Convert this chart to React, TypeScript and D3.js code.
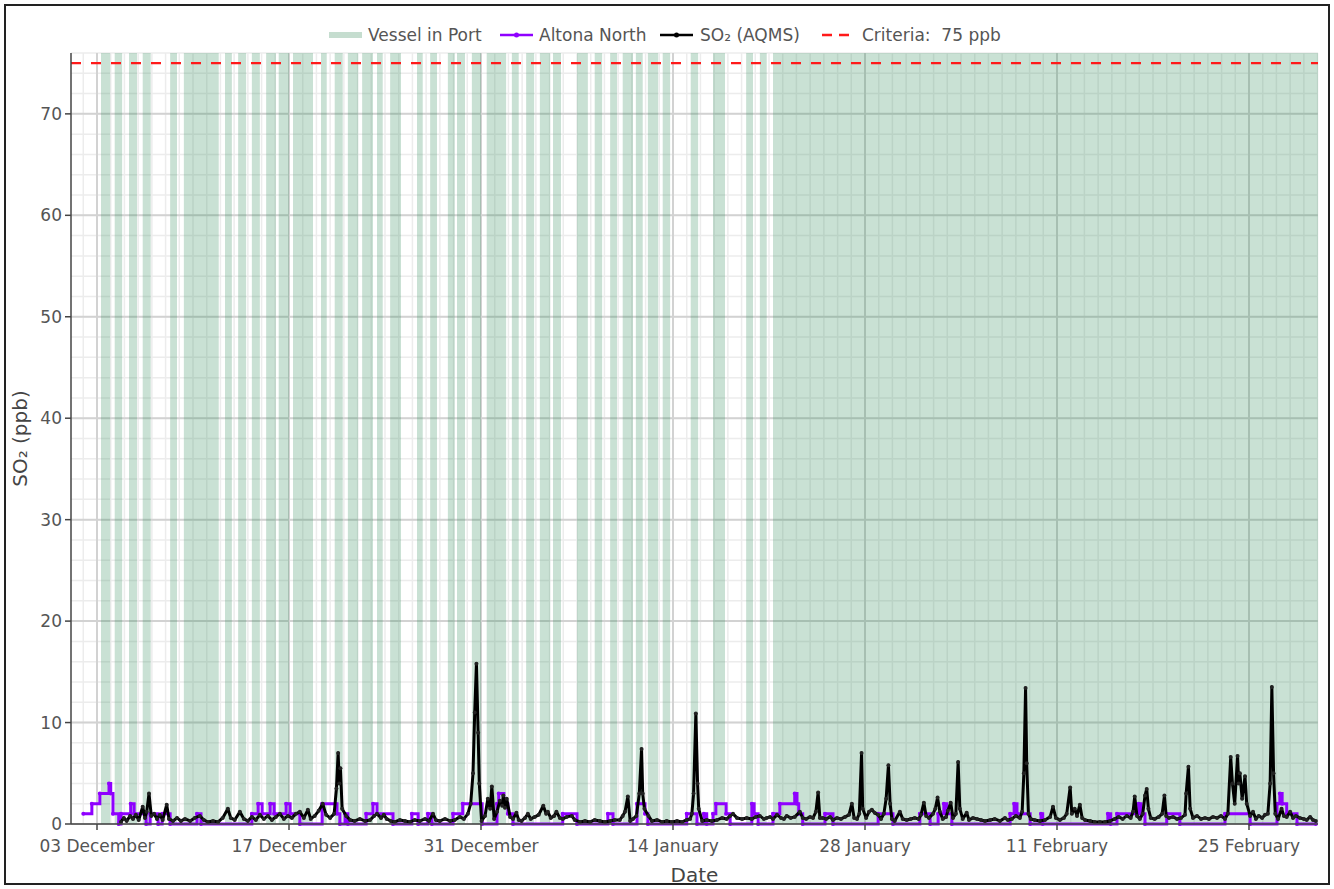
import React from "react";
import * as d3 from "d3";

// Hours since 03 Dec 2022 00:00 (UTC) -> values
const START_DATE = Date.UTC(2022, 11, 3);
const DOMAIN_HOURS: [number, number] = [-45.5, 2136.75];

const X_TICK_DAYS = [0, 14, 28, 42, 56, 70, 84];
const X_TICK_LABELS = ["03 December", "17 December", "31 December", "14 January", "28 January", "11 February", "25 February"];
const Y_TICKS = [0, 10, 20, 30, 40, 50, 60, 70];
const Y_MAX = 76;
const CRITERIA = 75;

// Vessel in Port periods [startHour, endHour]
const VESSEL_IN_PORT: [number, number][] = [
  [7, 23], [31, 44], [56, 70], [80, 94], [128, 140], [152, 213], [224, 236], [247, 261],
  [271, 285], [296, 313], [318, 336], [343, 378], [392, 402], [416, 430], [439, 457],
  [464, 483], [490, 500], [513, 532], [560, 570], [583, 595], [614, 626], [630, 644],
  [656, 672], [682, 716], [726, 738], [751, 765], [775, 793], [798, 812], [840, 859],
  [871, 884], [898, 910], [920, 938], [943, 955], [964, 982], [990, 1003], [1039, 1052],
  [1078, 1099], [1136, 1148], [1160, 1172], [1183, 2137],
];

// Altona North (step changes) [hour, value]
const ALTONA_NORTH: [number, number][] = [
  [-24, 1], [-9, 2], [5, 3], [21, 4], [24, 3], [28, 1], [38, 0], [42, 1], [59, 2], [65, 1],
  [86, 0], [93, 1], [107, 0], [114, 1], [128, 0], [175, 1], [182, 0], [271, 1], [282, 2],
  [289, 1], [303, 2], [310, 1], [331, 2], [338, 1], [355, 0], [394, 2], [420, 1], [425, 0],
  [434, 1], [439, 0], [471, 1], [483, 2], [490, 1], [518, 0], [551, 1], [562, 0], [579, 1],
  [586, 0], [623, 1], [640, 2], [674, 0], [700, 2], [703, 3], [712, 2], [719, 1], [728, 0],
  [815, 1], [840, 0], [894, 1], [903, 0], [945, 2], [959, 1], [964, 0], [1032, 1], [1050, 0],
  [1062, 1], [1067, 0], [1078, 1], [1083, 2], [1101, 1], [1108, 0], [1146, 2], [1150, 1],
  [1157, 0], [1183, 1], [1195, 2], [1221, 3], [1225, 2], [1228, 1], [1235, 0], [1274, 1],
  [1288, 0], [1367, 1], [1393, 0], [1440, 1], [1458, 0], [1472, 1], [1482, 2], [1487, 1],
  [1496, 0], [1598, 1], [1605, 2], [1610, 1], [1633, 0], [1652, 1], [1655, 0], [1769, 1],
  [1774, 0], [1785, 1], [1823, 2], [1827, 1], [1834, 0], [1872, 1], [1895, 0], [1974, 1],
  [2018, 0], [2065, 2], [2070, 3], [2074, 2], [2082, 1], [2100, 0], [2133, 0],
];

// SO2 (AQMS) [hour, value]
const SO2_AQMS: [number, number][] = [
  [42, 0.2], [47, 0.6], [52, 0.3], [58, 0.8], [63, 0.5], [68, 0.9], [73, 0.4], [80, 1.7],
  [84, 0.6], [87, 1.2], [91, 3.0], [95, 0.8], [100, 1.0], [105, 0.5], [110, 0.9], [115, 0.4],
  [122, 1.9], [126, 0.5], [133, 0.3], [140, 0.6], [147, 0.3], [154, 0.5], [163, 0.3], [171, 0.6],
  [180, 0.8], [187, 0.4], [194, 0.2], [203, 0.3], [212, 0.2], [220, 0.6], [229, 1.5], [234, 0.6],
  [241, 0.4], [250, 1.2], [257, 0.5], [264, 0.3], [271, 0.7], [278, 0.4], [285, 0.9], [292, 0.5],
  [299, 0.8], [306, 0.4], [313, 0.7], [320, 1.0], [327, 0.5], [334, 0.8], [341, 0.6], [348, 1.0],
  [355, 1.2], [362, 0.6], [369, 1.4], [374, 0.5], [381, 0.8], [388, 1.3], [395, 2.0], [401, 0.9],
  [408, 0.6], [415, 1.0], [419, 3.5], [422, 7.0], [424, 4.0], [426, 5.5], [429, 1.5], [436, 0.8],
  [443, 0.4], [451, 0.3], [460, 0.5], [469, 0.3], [478, 0.4], [485, 0.8], [490, 1.0], [497, 0.6],
  [502, 0.9], [507, 0.5], [514, 0.3], [521, 0.2], [530, 0.4], [539, 0.3], [548, 0.2], [556, 0.4],
  [565, 0.3], [574, 0.5], [581, 0.3], [588, 1.0], [593, 0.4], [600, 0.3], [609, 0.5], [618, 0.3],
  [626, 0.4], [635, 0.7], [642, 0.5], [649, 1.0], [654, 2.0], [658, 5.0], [661, 11.0], [664, 15.8],
  [667, 9.0], [669, 4.0], [673, 0.3], [679, 0.8], [684, 2.5], [688, 1.5], [691, 3.7], [695, 0.5],
  [700, 1.2], [705, 2.3], [709, 1.8], [711, 2.8], [714, 1.6], [717, 2.5], [723, 0.7], [728, 0.5],
  [734, 1.1], [738, 0.4], [743, 0.3], [749, 0.6], [754, 1.0], [759, 0.5], [766, 0.7], [773, 0.9],
  [781, 1.8], [786, 1.0], [789, 1.2], [794, 0.6], [800, 0.8], [804, 1.2], [810, 0.6], [815, 0.5],
  [822, 0.7], [831, 0.8], [836, 0.4], [845, 0.2], [854, 0.3], [863, 0.2], [871, 0.4], [880, 0.3],
  [889, 0.2], [898, 0.3], [906, 0.4], [915, 0.4], [920, 0.8], [924, 1.2], [929, 2.7], [933, 0.3],
  [938, 0.5], [944, 0.8], [949, 3.0], [953, 7.4], [955, 3.0], [958, 1.5], [965, 0.8], [971, 0.3],
  [980, 0.4], [989, 0.2], [997, 0.3], [1006, 0.2], [1015, 0.3], [1024, 0.2], [1032, 0.4], [1038, 0.5],
  [1041, 1.0], [1044, 3.0], [1048, 10.9], [1051, 4.0], [1053, 1.5], [1059, 0.3], [1067, 0.4], [1076, 0.3],
  [1085, 0.4], [1094, 0.6], [1102, 0.5], [1108, 0.8], [1113, 1.0], [1120, 0.6], [1129, 0.5], [1137, 0.6],
  [1146, 0.5], [1153, 0.7], [1160, 0.8], [1167, 0.5], [1172, 0.6], [1178, 0.7], [1183, 0.5], [1190, 0.9],
  [1197, 0.6], [1202, 0.5], [1207, 0.8], [1214, 0.6], [1221, 0.7], [1230, 1.2], [1235, 0.6], [1241, 0.5],
  [1248, 0.7], [1253, 0.6], [1258, 1.2], [1262, 3.1], [1265, 0.6], [1270, 0.6], [1276, 0.5], [1283, 0.7],
  [1288, 0.4], [1295, 0.6], [1302, 0.5], [1309, 0.7], [1316, 0.9], [1321, 2.0], [1325, 0.6], [1330, 0.5],
  [1334, 1.0], [1338, 7.0], [1340, 1.5], [1346, 0.6], [1351, 1.2], [1356, 1.4], [1361, 1.1], [1367, 0.9],
  [1372, 0.5], [1377, 1.0], [1381, 2.5], [1385, 5.8], [1388, 2.0], [1391, 0.5], [1396, 0.3], [1405, 1.2],
  [1410, 0.5], [1417, 0.4], [1424, 0.5], [1431, 0.6], [1438, 0.5], [1442, 0.9], [1447, 2.1], [1451, 0.8],
  [1456, 0.6], [1463, 1.0], [1467, 1.5], [1471, 2.6], [1475, 1.2], [1480, 0.5], [1486, 0.7], [1489, 1.3],
  [1494, 2.1], [1498, 0.6], [1503, 1.0], [1507, 6.1], [1510, 1.5], [1515, 0.5], [1522, 1.1], [1526, 0.4],
  [1533, 0.6], [1540, 0.5], [1547, 0.4], [1554, 0.3], [1563, 0.4], [1571, 0.5], [1580, 0.3], [1589, 0.6],
  [1594, 0.4], [1601, 0.5], [1608, 0.8], [1615, 0.6], [1619, 1.2], [1622, 5.0], [1625, 13.4], [1627, 6.0],
  [1630, 1.0], [1634, 0.5], [1641, 0.4], [1650, 0.3], [1659, 0.4], [1668, 0.7], [1673, 1.7], [1678, 0.6],
  [1685, 0.4], [1692, 0.6], [1697, 1.0], [1703, 3.6], [1706, 1.0], [1711, 1.5], [1715, 0.8], [1720, 1.9],
  [1724, 0.6], [1729, 0.4], [1738, 0.3], [1746, 0.2], [1755, 0.2], [1764, 0.2], [1773, 0.3], [1781, 0.5],
  [1788, 0.7], [1795, 0.5], [1802, 0.8], [1809, 0.6], [1813, 1.2], [1816, 2.7], [1820, 0.8], [1825, 0.5],
  [1830, 1.0], [1834, 2.8], [1837, 3.45], [1840, 1.5], [1844, 0.6], [1851, 0.5], [1858, 0.7], [1864, 1.0],
  [1868, 2.8], [1871, 0.8], [1876, 0.6], [1883, 0.7], [1890, 0.5], [1897, 0.6], [1904, 0.9], [1906, 3.0],
  [1910, 5.65], [1913, 1.5], [1918, 0.6], [1925, 0.8], [1932, 0.5], [1939, 0.6], [1946, 0.5], [1953, 0.7],
  [1960, 0.6], [1967, 0.8], [1974, 0.5], [1979, 1.0], [1984, 6.6], [1987, 4.0], [1991, 2.0], [1996, 6.7],
  [1998, 4.0], [2000, 5.0], [2004, 2.5], [2009, 4.7], [2012, 2.0], [2018, 0.8], [2023, 1.2], [2028, 0.5],
  [2033, 0.8], [2039, 0.6], [2044, 0.9], [2049, 1.0], [2053, 4.0], [2056, 13.5], [2059, 5.0], [2062, 1.0],
  [2067, 0.5], [2073, 1.5], [2077, 0.8], [2082, 0.7], [2088, 1.2], [2093, 0.6], [2098, 0.8], [2105, 0.6],
  [2112, 0.5], [2117, 0.4], [2123, 0.7], [2128, 0.4], [2133, 0.3],
];

const FONT = "'DejaVu Sans', Verdana, sans-serif";
const BAND_FILL = "rgba(46,139,87,0.26)";
const PURPLE = "#8f00ff";

const hourToDate = (h: number) => new Date(START_DATE + h * 3600000);

export default function App() {
  const W = 1334, H = 889;
  const m = { left: 71, right: 1318, top: 53, bottom: 824 };
  const x = d3.scaleUtc().domain(DOMAIN_HOURS.map(hourToDate)).range([m.left, m.right]);
  const y = d3.scaleLinear().domain([0, Y_MAX]).range([m.bottom, m.top]);

  const minorDays = d3.utcDay.range(x.domain()[0], x.domain()[1]);
  const minorY = d3.range(0, Y_MAX + 0.01, 2);

  const lineBlack = d3.line<[number, number]>()
    .x(d => x(hourToDate(d[0])))
    .y(d => y(d[1]));
  const linePurple = d3.line<[number, number]>()
    .x(d => x(hourToDate(d[0])))
    .y(d => y(d[1]))
    .curve(d3.curveStepAfter);

  const textColor = "#555";

  return (
    <svg width={W} height={H} style={{ position: "absolute", left: 0, top: 0, background: "#fff" }} fontFamily={FONT}>
      <rect x={0} y={0} width={W} height={H} fill="#fff" />
      <defs>
        <clipPath id="plotclip">
          <rect x={m.left} y={m.top} width={m.right - m.left} height={m.bottom - m.top + 4} />
        </clipPath>
      </defs>
      {/* minor grid */}
      <g>
        {minorDays.map((d, i) => (
          <line key={"mx" + i} x1={x(d)} x2={x(d)} y1={m.top} y2={m.bottom} stroke="#ececec" strokeWidth={1.5} />
        ))}
        {minorY.map((v, i) => (
          <line key={"my" + i} x1={m.left} x2={m.right} y1={y(v)} y2={y(v)} stroke="#ececec" strokeWidth={1.5} />
        ))}
      </g>
      {/* major grid */}
      <g>
        {X_TICK_DAYS.map((d, i) => {
          const xx = x(hourToDate(d * 24));
          return <line key={"Mx" + i} x1={xx} x2={xx} y1={m.top} y2={m.bottom} stroke="#d2d2d2" strokeWidth={2} />;
        })}
        {Y_TICKS.map((v, i) => (
          <line key={"My" + i} x1={m.left} x2={m.right} y1={y(v)} y2={y(v)} stroke="#d2d2d2" strokeWidth={2} />
        ))}
      </g>
      {/* vessel in port bands */}
      <g>
        {VESSEL_IN_PORT.map((b, i) => {
          const x0 = x(hourToDate(b[0]));
          const x1 = Math.min(x(hourToDate(b[1])), m.right);
          return <rect key={"b" + i} x={x0} y={m.top} width={Math.max(0, x1 - x0)} height={m.bottom - m.top} fill={BAND_FILL} />;
        })}
      </g>
      {/* criteria */}
      <line x1={m.left} x2={m.right} y1={y(CRITERIA)} y2={y(CRITERIA)} stroke="#ff1a1a" strokeWidth={2.2} strokeDasharray="10,10" />
      {/* series */}
      <g clipPath="url(#plotclip)">
        <path d={linePurple(ALTONA_NORTH) || ""} fill="none" stroke={PURPLE} strokeWidth={3} />
        {ALTONA_NORTH.map((d, i) => (
          <circle key={"pp" + i} cx={x(hourToDate(d[0]))} cy={y(d[1])} r={2} fill={PURPLE} />
        ))}
        <path d={lineBlack(SO2_AQMS) || ""} fill="none" stroke="#000" strokeWidth={3} strokeLinejoin="round" />
        {SO2_AQMS.map((d, i) => (
          <circle key={"bp" + i} cx={x(hourToDate(d[0]))} cy={y(d[1])} r={2} fill="#222" />
        ))}
      </g>
      {/* axes */}
      <line x1={m.left} x2={m.left} y1={m.top} y2={m.bottom} stroke="#444" strokeWidth={1.5} />
      <line x1={m.left} x2={m.right} y1={m.bottom} y2={m.bottom} stroke="#444" strokeWidth={1.5} />
      {Y_TICKS.map((v, i) => (
        <g key={"yt" + i}>
          <line x1={m.left - 6} x2={m.left} y1={y(v)} y2={y(v)} stroke="#444" strokeWidth={1.5} />
          <text x={m.left - 9} y={y(v)} dy="0.35em" textAnchor="end" fontSize={17} fill={textColor}>{v}</text>
        </g>
      ))}
      {X_TICK_DAYS.map((d, i) => {
        const xx = x(hourToDate(d * 24));
        return (
          <g key={"xt" + i}>
            <line x1={xx} x2={xx} y1={m.bottom} y2={m.bottom + 6} stroke="#444" strokeWidth={1.5} />
            <text x={xx} y={852} textAnchor="middle" fontSize={17} fill={textColor}>{X_TICK_LABELS[i]}</text>
          </g>
        );
      })}
      <text x={(m.left + m.right) / 2} y={882} textAnchor="middle" fontSize={20} fill="#444">Date</text>
      <text transform={`translate(27,${(m.top + m.bottom) / 2}) rotate(-90)`} textAnchor="middle" fontSize={20} fill="#444">SO₂ (ppb)</text>
      {/* legend */}
      <g fontSize={17} fill={textColor}>
        <rect x={329} y={32} width={33} height={6} fill="#c5ddcf" />
        <text x={368} y={41}>Vessel in Port</text>
        <line x1={500} x2={533} y1={35} y2={35} stroke={PURPLE} strokeWidth={2.5} />
        <circle cx={516.5} cy={35} r={2.5} fill={PURPLE} />
        <text x={539} y={41}>Altona North</text>
        <line x1={660} x2={693} y1={35} y2={35} stroke="#000" strokeWidth={2.5} />
        <circle cx={676.5} cy={35} r={2.5} fill="#000" />
        <text x={700} y={41}>SO₂ (AQMS)</text>
        <line x1={822} x2={855} y1={35} y2={35} stroke="#ff1a1a" strokeWidth={2.5} strokeDasharray="10,7" />
        <text x={862} y={41} style={{ whiteSpace: "pre" }}>{"Criteria:  75 ppb"}</text>
      </g>
      {/* outer border */}
      <rect x={5} y={5} width={1324} height={879} fill="none" stroke="#222" strokeWidth={2} />
    </svg>
  );
}
